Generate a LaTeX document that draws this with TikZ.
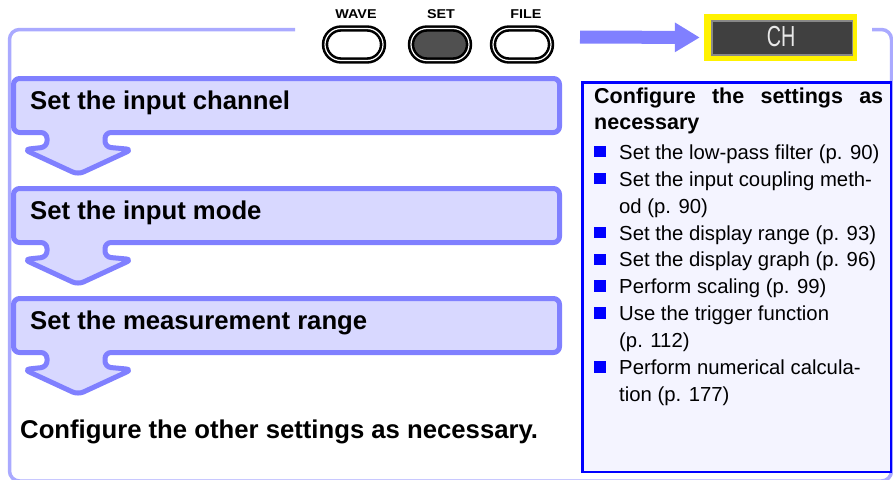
\documentclass[tikz,border=0pt]{standalone}
\usepackage{fontspec}
\setmainfont{Liberation Sans}
\usepackage{graphicx}
\usetikzlibrary{arrows.meta}
\definecolor{framec}{RGB}{170,170,255}
\definecolor{stepline}{RGB}{128,128,255}
\definecolor{stepfill}{RGB}{216,216,255}
\definecolor{boxblue}{RGB}{0,0,255}
\definecolor{boxfill}{RGB}{244,244,255}
\definecolor{btngray}{RGB}{80,80,80}
\definecolor{lcd}{RGB}{64,64,64}
\definecolor{lcdborder}{RGB}{136,136,136}
\definecolor{lcdtext}{RGB}{232,232,232}
\newcommand\mystepshape[2]{%
  \draw[stepshape] (13.5,{(#1+#2)/2}) -- (13.5,#1) -- (559.5,#1) -- (559.5,#2)
    -- (105,#2) -- (105,{#2+14.5}) -- (132,{#2+17}) -- (78,{#2+42})
    -- (24,{#2+17}) -- (47,{#2+14.5}) -- (47,#2) -- (13.5,#2) -- cycle;}
\begin{document}
\begin{tikzpicture}[x=1pt,y=-1pt,
  stepshape/.style={draw=stepline, fill=stepfill, line width=5pt, rounded corners=6pt, line join=round},
  steptext/.style={anchor=base west, inner sep=0pt, font=\fontsize{25.7}{30}\selectfont\bfseries},
  headtext/.style={anchor=base west, inner sep=0pt, font=\fontsize{21.5}{26}\selectfont\bfseries},
  itemtext/.style={anchor=base west, inner sep=0pt, font=\fontsize{20.3}{24}\selectfont},
  bulletsq/.style={fill=boxblue, minimum size=11.5pt, inner sep=0pt},
  btn/.style={draw=black, double=white, double distance=1.2pt, line width=2.6pt, rounded corners=16pt, minimum width=58pt, minimum height=32pt, inner sep=0pt},
  btnlabel/.style={anchor=base, inner sep=0pt, font=\fontsize{12.8}{14}\selectfont\bfseries}
]
\path[use as bounding box, clip] (0,0) rectangle (893,479);

% outer frame
\draw[framec, line width=3.5pt, rounded corners=10pt] (295,29.5) -- (9.5,29.5) -- (9.5,481) -- (891.5,481) -- (891.5,29.5) -- (872,29.5);

% steps
\mystepshape{78.5}{132.5}
\mystepshape{188.5}{242.5}
\mystepshape{298.5}{352.5}
\node[steptext] (t1) at (30,109) {Set the input channel};
\node[steptext] (t2) at (30,219) {Set the input mode};
\node[steptext] (t3) at (30,329) {Set the measurement range};
\node[steptext] (t4) at (20,438) {Configure the other settings as necessary.};

% right box
\node[draw=boxblue, fill=boxfill, line width=2.5pt, minimum width=308.5pt, minimum height=389.5pt, anchor=north west, inner sep=0pt] (rbox) at (581.25,81.25) {};
\node[headtext] (h1) at (594,103.3) {\makebox[289pt][s]{Configure\hfill the\hfill settings\hfill as}};
\node[headtext] (h2) at (594,129.5) {necessary};

\node[bulletsq] (b1) at (600,151.7) {};
\node[itemtext] (i1) at (619,159.3) {Set the low-pass filter (p. 90)};
\node[bulletsq] (b2) at (600,178.6) {};
\node[itemtext] (i2) at (619,186.2) {Set the input coupling meth-};
\node[itemtext] (i2b) at (619,213.1) {od (p. 90)};
\node[bulletsq] (b3) at (600,232.4) {};
\node[itemtext] (i3) at (619,240) {Set the display range (p. 93)};
\node[bulletsq] (b4) at (600,259.3) {};
\node[itemtext] (i4) at (619,266.9) {Set the display graph (p. 96)};
\node[bulletsq] (b5) at (600,286.2) {};
\node[itemtext] (i5) at (619,293.8) {Perform scaling (p. 99)};
\node[bulletsq] (b6) at (600,313.1) {};
\node[itemtext] (i6) at (619,320.7) {Use the trigger function};
\node[itemtext] (i6b) at (619,347.6) {(p. 112)};
\node[bulletsq] (b7) at (600,366.9) {};
\node[itemtext] (i7) at (619,374.5) {Perform numerical calcula-};
\node[itemtext] (i7b) at (619,401.4) {tion (p. 177)};

% buttons
\node[btn, fill=white] (wave) at (354,44.5) {};
\node[btn, fill=btngray] (set) at (440,44.5) {};
\node[btn, fill=white] (file) at (522,44.5) {};
\node[btnlabel] (wavel) at (356,18.5) {\scalebox{1.12}[1]{WAVE}};
\node[btnlabel] (setl) at (441,18.5) {\scalebox{1.12}[1]{SET}};
\node[btnlabel] (filel) at (526,18.5) {\scalebox{1.12}[1]{FILE}};

% CH display
\node[fill=yellow, minimum width=153pt, minimum height=47pt, inner sep=0pt] (chy) at (780.5,37.5) {};
\node[draw=lcdborder, fill=lcd, line width=1.5pt, minimum width=140.5pt, minimum height=34.2pt, inner sep=0pt] (ch) at (782,37.9) {};
\node[text=lcdtext, font=\fontsize{29}{30}\selectfont, inner sep=0pt] (cht) at (781,36.8) {\scalebox{0.68}[1]{CH}};

% arrow to CH
\coordinate (arrs) at (580,37);
\draw[line width=13pt, draw=stepline, shorten >=4pt, -{Triangle[length=25pt, width=28pt]}] (arrs) -- (chy.west);
\end{tikzpicture}
\end{document}
